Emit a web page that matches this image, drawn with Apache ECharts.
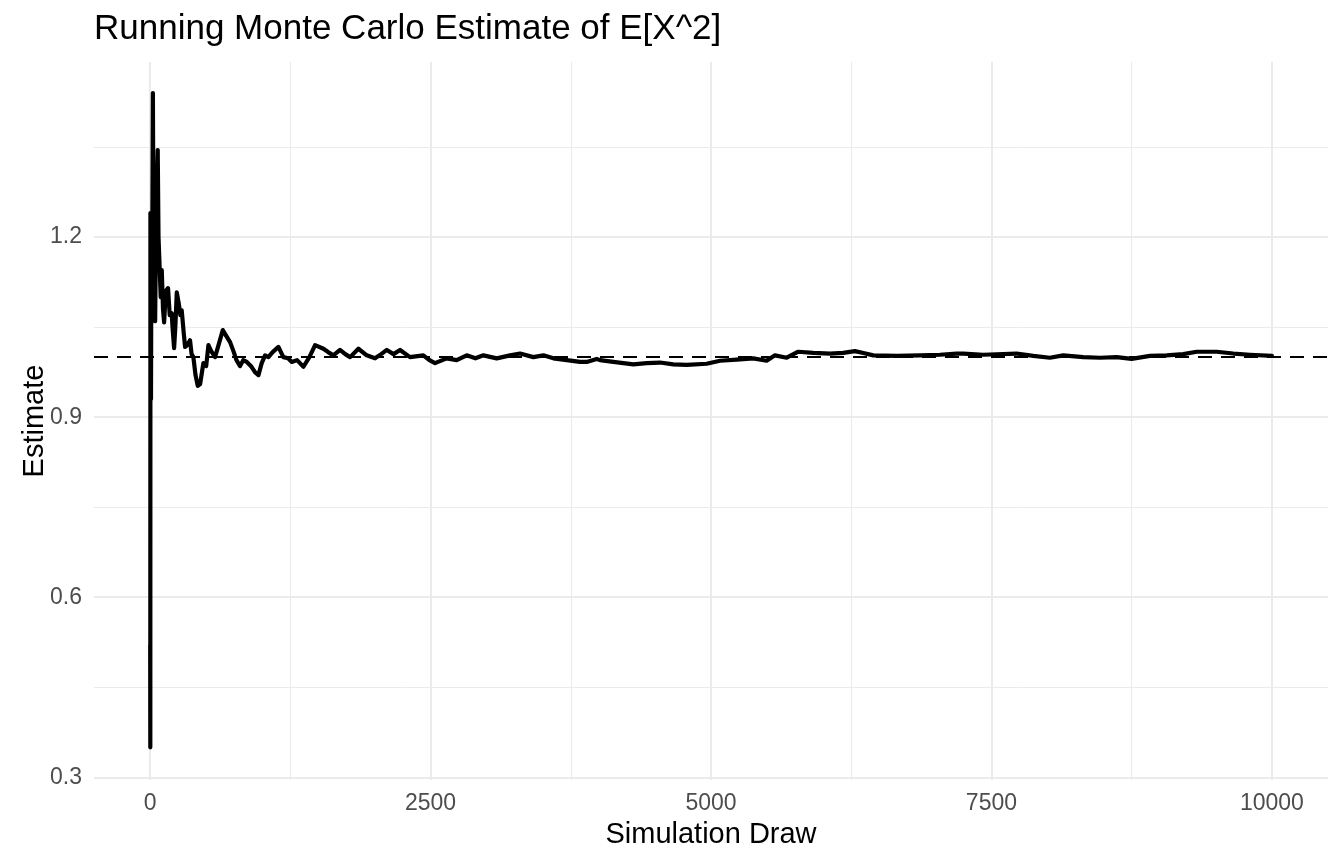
<!DOCTYPE html>
<html><head><meta charset="utf-8">
<script src="https://cdn.jsdelivr.net/npm/echarts@6/dist/echarts.min.js"></script>
<style>html,body{margin:0;padding:0;background:#fff}#c{width:1344px;height:864px}</style>
</head><body><div id="c"></div>
<script>
const draws = [1,2,3,5,8,12,18,25,30,38,45,55,68,75,85,95,104,115,125,140,160,175,193,200,214,225,238,255,270,282,300,312,330,356,370,386,405,425,446,475,500,520,545,579,610,648,680,713,743,770,802,830,862,900,935,966,995,1025,1055,1090,1144,1188,1230,1263,1310,1367,1420,1471,1545,1590,1634,1693,1740,1783,1857,1931,2005,2060,2110,2170,2228,2317,2436,2490,2540,2644,2733,2822,2900,2971,3090,3209,3298,3416,3506,3595,3714,3832,3892,3981,4011,4129,4308,4427,4545,4664,4783,4961,5080,5229,5377,5496,5570,5675,5778,5912,6061,6179,6283,6358,6447,6655,6863,7041,7190,7249,7427,7724,7873,8021,8140,8318,8467,8616,8749,8913,9061,9210,9329,9507,9656,9804,10000];
const estimates = [0.52,0.35,1.24,1.05,0.93,1.2,1.1,1.44,1.2,1.07,1.06,1.25,1.345,1.2,1.15,1.1,1.145,1.08,1.058,1.11,1.115,1.07,1.073,1.05,1.015,1.05,1.108,1.09,1.07,1.078,1.04,1.017,1.02,1.028,1.005,1.0,0.97,0.952,0.955,0.99,0.985,1.02,1.01,1.0,1.02,1.045,1.035,1.025,1.01,0.995,0.985,0.995,0.992,0.985,0.975,0.97,0.99,1.003,1.0,1.008,1.017,1.0,0.998,0.992,0.995,0.984,1.0,1.02,1.014,1.008,1.003,1.012,1.005,1.0,1.014,1.003,0.998,1.005,1.012,1.005,1.012,1.0,1.003,0.995,0.99,0.998,0.995,1.003,0.998,1.003,0.998,1.003,1.006,1.0,1.003,0.998,0.995,0.992,0.992,0.997,0.995,0.992,0.988,0.990,0.991,0.988,0.987,0.989,0.994,0.996,0.998,0.994,1.003,0.999,1.009,1.007,1.006,1.007,1.010,1.007,1.003,1.002,1.003,1.004,1.006,1.006,1.004,1.006,1.002,0.999,1.003,1.0,0.999,1.0,0.997,1.002,1.003,1.005,1.009,1.009,1.006,1.004,1.002];
const xMajorTicks = [0, 2500, 5000, 7500, 10000];
const xMinorTicks = [1250, 3750, 6250, 8750];
const yMajorTicks = [0.3, 0.6, 0.9, 1.2];
const yMinorTicks = [0.45, 0.75, 1.05, 1.35];
const trueValue = 1;
const titleText = 'Running Monte Carlo Estimate of E[X^2]';
const xTitle = 'Simulation Draw';
const yTitle = 'Estimate';

const FONT = '"Liberation Sans", Arial, Helvetica, sans-serif';
const xMin = -499.95, xMax = 10499.95;
const yMin = 0.2955, yMax = 1.4917;
const gridCol = '#EBEBEB';

const chart = echarts.init(document.getElementById('c'), null, {renderer: 'canvas'});
chart.setOption({
  animation: false,
  backgroundColor: '#ffffff',
  title: {
    text: titleText, left: 94, top: 12, padding: 0,
    textStyle: {fontFamily: FONT, fontSize: 35, fontWeight: 'normal', color: '#000'}
  },
  grid: {left: 94, right: 16, top: 62, bottom: 84, containLabel: false},
  xAxis: [
    {
      type: 'value', min: xMin, max: xMax, position: 'bottom',
      name: xTitle, nameLocation: 'middle', nameGap: 40, nameMoveOverlap: false,
      nameTextStyle: {fontFamily: FONT, fontSize: 29, color: '#000'},
      axisLine: {show: false},
      axisTick: {show: false, customValues: xMajorTicks},
      axisLabel: {customValues: xMajorTicks, color: '#4D4D4D', fontFamily: FONT, fontSize: 23, margin: 12,
        formatter: v => String(Math.round(v))},
      splitLine: {show: true, lineStyle: {color: gridCol, width: 2}}
    },
    {
      type: 'value', min: xMin, max: xMax, position: 'top',
      axisLine: {show: false},
      axisTick: {show: false, customValues: xMinorTicks},
      axisLabel: {show: false, customValues: xMinorTicks},
      splitLine: {show: true, lineStyle: {color: gridCol, width: 1}}
    }
  ],
  yAxis: [
    {
      type: 'value', min: yMin, max: yMax, position: 'left',
      name: yTitle, nameLocation: 'middle', nameGap: 45, nameRotate: 90, nameMoveOverlap: false,
      nameTextStyle: {fontFamily: FONT, fontSize: 29, color: '#000'},
      axisLine: {show: false},
      axisTick: {show: false, customValues: yMajorTicks},
      axisLabel: {customValues: yMajorTicks, color: '#4D4D4D', fontFamily: FONT, fontSize: 23, margin: 12,
        formatter: v => v.toFixed(1)},
      splitLine: {show: true, lineStyle: {color: gridCol, width: 2}}
    },
    {
      type: 'value', min: yMin, max: yMax, position: 'right',
      axisLine: {show: false},
      axisTick: {show: false, customValues: yMinorTicks},
      axisLabel: {show: false, customValues: yMinorTicks},
      splitLine: {show: true, lineStyle: {color: gridCol, width: 1}}
    }
  ],
  series: [{
    type: 'line', xAxisIndex: 0, yAxisIndex: 0,
    data: draws.map((d, i) => [d, estimates[i]]),
    showSymbol: false, symbol: 'none',
    lineStyle: {color: '#000', width: 4.2, join: 'round', cap: 'round'},
    z: 3,
    markLine: {
      silent: true, symbol: 'none', label: {show: false},
      lineStyle: {color: '#000', width: 2, type: [14, 9]},
      data: [{yAxis: trueValue}]
    }
  }]
});
</script></body></html>
